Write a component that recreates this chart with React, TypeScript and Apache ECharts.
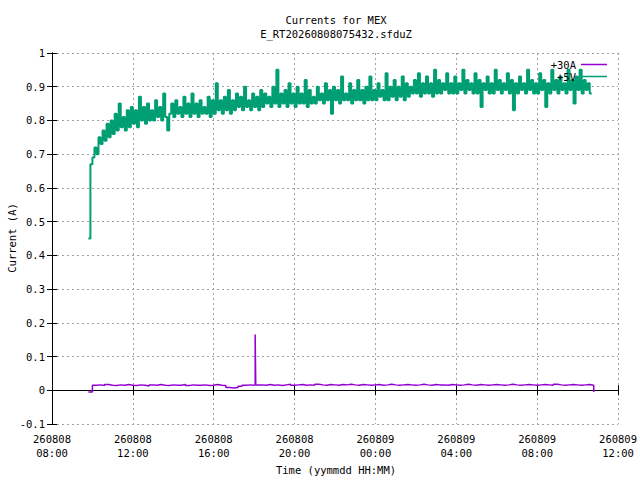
import React, { useEffect, useRef } from "react";
import * as echarts from "echarts";

// Time axis: hours since 260808 08:00
const X_MIN = 0;
const X_MAX = 28;
const X_INTERVAL = 4;
const START_DAY_LABELS = ["260808", "260809"];

const TITLE_LINE1 = "Currents for MEX";
const TITLE_LINE2 = "E_RT20260808075432.sfduZ";
const X_TITLE = "Time (yymmdd HH:MM)";
const Y_TITLE = "Current (A)";

const SERIES_NAMES = ["+30A", "+5V"];

// purple (+30A): samples every 0.2 h starting at 1.8 h
const PURPLE_START = 1.8;
const PURPLE_STEP = 0.2;
const PURPLE_VALUES = [
  -0.005, 0.015, 0.016, 0.014, 0.017, 0.015, 0.014, 0.016, 0.015, 0.017,
  0.015, 0.014, 0.016, 0.015, 0.013, 0.016, 0.015, 0.017, 0.015, 0.014,
  0.016, 0.015, 0.015, 0.017, 0.014, 0.016, 0.015, 0.015, 0.016, 0.014,
  0.015, 0.017, 0.015, 0.014, 0.008, 0.007, 0.008, 0.012, 0.015, 0.016,
  0.015, 0.016, 0.016, 0.015, 0.017, 0.015, 0.016, 0.014, 0.016, 0.018,
  0.015, 0.016, 0.017, 0.015, 0.016, 0.015, 0.018, 0.016, 0.015, 0.017,
  0.016, 0.015, 0.017, 0.016, 0.018, 0.016, 0.015, 0.017, 0.016, 0.015,
  0.016, 0.017, 0.015, 0.016, 0.018, 0.016, 0.015, 0.016, 0.017, 0.016,
  0.015, 0.016, 0.018, 0.016, 0.015, 0.017, 0.016, 0.016, 0.015, 0.017,
  0.016, 0.015, 0.016, 0.018, 0.016, 0.015, 0.017, 0.016, 0.015, 0.016,
  0.017, 0.016, 0.015, 0.016, 0.018, 0.016, 0.015, 0.016, 0.017, 0.016,
  0.015, 0.016, 0.017, 0.016, 0.015, 0.018, 0.016, 0.015, 0.016, 0.017,
  0.016, 0.015, 0.016, 0.017, 0.015, -0.005,
];
// short spike in +30A: [time (h), value]
const PURPLE_SPIKE: [number, number][] = [
  [10.05, 0.165],
  [10.08, 0.016],
];

// green (+5V): samples every 0.1 h starting at 1.8 h
const GREEN_START = 1.8;
const GREEN_STEP = 0.1;
const GREEN_VALUES = [
  0.45, 0.67,
  0.69, 0.72, 0.70, 0.75, 0.73, 0.77, 0.74, 0.79, 0.75, 0.80,
  0.76, 0.82, 0.77, 0.85, 0.78, 0.81, 0.77, 0.83, 0.78, 0.84,
  0.79, 0.83, 0.78, 0.87, 0.80, 0.84, 0.79, 0.85, 0.80, 0.83,
  0.80, 0.86, 0.81, 0.84, 0.80, 0.88, 0.81, 0.77, 0.82, 0.85,
  0.81, 0.86, 0.82, 0.84, 0.81, 0.87, 0.82, 0.85, 0.81, 0.88,
  0.82, 0.85, 0.81, 0.86, 0.82, 0.84, 0.82, 0.87, 0.81, 0.86,
  0.82, 0.91, 0.83, 0.86, 0.82, 0.87, 0.83, 0.89, 0.82, 0.86,
  0.83, 0.88, 0.84, 0.87, 0.83, 0.90, 0.84, 0.86, 0.83, 0.88,
  0.84, 0.87, 0.83, 0.89, 0.84, 0.88, 0.85, 0.87, 0.84, 0.90,
  0.85, 0.95, 0.84, 0.88, 0.85, 0.89, 0.84, 0.91, 0.85, 0.88,
  0.84, 0.90, 0.85, 0.88, 0.85, 0.92, 0.84, 0.89, 0.85, 0.87,
  0.85, 0.90, 0.86, 0.88, 0.85, 0.91, 0.86, 0.89, 0.82, 0.90,
  0.86, 0.89, 0.85, 0.93, 0.86, 0.88, 0.86, 0.91, 0.85, 0.89,
  0.86, 0.92, 0.86, 0.89, 0.85, 0.90, 0.86, 0.93, 0.86, 0.89,
  0.86, 0.91, 0.87, 0.89, 0.86, 0.94, 0.86, 0.90, 0.87, 0.92,
  0.86, 0.90, 0.87, 0.93, 0.86, 0.91, 0.87, 0.90, 0.88, 0.92,
  0.88, 0.94, 0.87, 0.91, 0.88, 0.93, 0.88, 0.91, 0.87, 0.95,
  0.88, 0.92, 0.88, 0.91, 0.89, 0.94, 0.88, 0.91, 0.88, 0.93,
  0.88, 0.91, 0.89, 0.95, 0.88, 0.92, 0.89, 0.91, 0.88, 0.94,
  0.88, 0.92, 0.84, 0.91, 0.89, 0.93, 0.88, 0.91, 0.88, 0.95,
  0.89, 0.92, 0.88, 0.91, 0.89, 0.94, 0.88, 0.92, 0.83, 0.91,
  0.88, 0.93, 0.89, 0.91, 0.88, 0.95, 0.89, 0.92, 0.88, 0.91,
  0.88, 0.94, 0.89, 0.92, 0.84, 0.91, 0.88, 0.95, 0.89, 0.92,
  0.88, 0.93, 0.89, 0.91, 0.88, 0.95, 0.89, 0.92, 0.85, 0.93,
  0.89, 0.95, 0.88, 0.92, 0.89, 0.91, 0.88, 0.88,
];

const FONT = "DejaVu Sans Mono";
const FS = 10.5;

function toPairs(start: number, step: number, values: number[]) {
  return values.map((v, i) => [Math.round((start + i * step) * 1000) / 1000, v]);
}

function xLabel(v: number) {
  const total = 8 + v;
  const day = START_DAY_LABELS[Math.floor(total / 24)] ?? "";
  const hh = Math.round(total % 24);
  return `${day}\n${String(hh).padStart(2, "0")}:00`;
}

export default function App() {
  const ref = useRef<HTMLDivElement>(null);
  useEffect(() => {
    document.body.style.margin = "0";
    if (!ref.current) return;
    const chart = echarts.init(ref.current, undefined, { renderer: "svg" });
    const grid = { left: 52, right: 19, top: 53, bottom: 56 };
    const axisLine = { show: true, lineStyle: { color: "#000", width: 1 } };
    const tick = { show: true, inside: true, length: 5, lineStyle: { color: "#000" } };
    const splitLine = {
      show: true,
      lineStyle: { color: "#a0a0a0", type: [2, 3] as any, width: 1 },
    };
    const purpleData = toPairs(PURPLE_START, PURPLE_STEP, PURPLE_VALUES)
      .concat(PURPLE_SPIKE.map((p) => [p[0], p[1]]))
      .sort((a, b) => a[0] - b[0]);
    const textStyle = (text: string) => ({
      text,
      font: `${FS}px ${FONT}`,
      fill: "#000",
      textAlign: "center",
      textVerticalAlign: "middle",
    });
    chart.setOption({
      animation: false,
      backgroundColor: "#fff",
      grid: { ...grid, containLabel: false },
      legend: {
        orient: "vertical",
        right: 28,
        top: 54,
        align: "right",
        icon: "rect",
        itemWidth: 26,
        itemHeight: 1.5,
        itemGap: 1,
        textStyle: { fontFamily: FONT, fontSize: FS, color: "#000", padding: [0, 0, 0, 0] },
        data: SERIES_NAMES,
      },
      graphic: [
        { type: "text", x: 336, y: 20, style: textStyle(TITLE_LINE1) },
        { type: "text", x: 336, y: 34, style: textStyle(TITLE_LINE2) },
        { type: "text", x: 336, y: 470, style: textStyle(X_TITLE) },
        { type: "text", x: 12, y: 238, rotation: Math.PI / 2, style: textStyle(Y_TITLE) },
      ],
      xAxis: [
        {
          type: "value",
          position: "bottom",
          min: X_MIN,
          max: X_MAX,
          interval: X_INTERVAL,
          axisLine,
          axisTick: tick,
          splitLine,
          axisLabel: {
            formatter: xLabel,
            fontFamily: FONT,
            fontSize: FS,
            color: "#000",
            lineHeight: 14,
            margin: 8,
            showMinLabel: true,
            showMaxLabel: true,
          },
        },
        {
          type: "value",
          position: "top",
          min: X_MIN,
          max: X_MAX,
          interval: X_INTERVAL,
          axisLine,
          axisTick: tick,
          splitLine: { show: false },
          axisLabel: { show: false },
        },
      ],
      yAxis: [
        {
          type: "value",
          position: "left",
          min: -0.1,
          max: 1,
          interval: 0.1,
          axisLine,
          axisTick: tick,
          splitLine,
          axisLabel: {
            fontFamily: FONT,
            fontSize: FS,
            color: "#000",
            margin: 7,
            formatter: (v: number) => String(Math.round(v * 10) / 10),
          },
        },
        {
          type: "value",
          position: "right",
          min: -0.1,
          max: 1,
          interval: 0.1,
          axisLine,
          axisTick: tick,
          splitLine: { show: false },
          axisLabel: { show: false },
        },
      ],
      series: [
        {
          name: SERIES_NAMES[0],
          type: "line",
          step: "end",
          symbol: "none",
          showSymbol: false,
          xAxisIndex: 0,
          yAxisIndex: 0,
          color: "#9400d3",
          lineStyle: { color: "#9400d3", width: 1.5 },
          data: purpleData,
        },
        {
          name: SERIES_NAMES[1],
          type: "line",
          step: "end",
          symbol: "none",
          showSymbol: false,
          xAxisIndex: 0,
          yAxisIndex: 0,
          color: "#009e73",
          lineStyle: { color: "#009e73", width: 2 },
          data: toPairs(GREEN_START, GREEN_STEP, GREEN_VALUES),
        },
      ],
    });
    return () => chart.dispose();
  }, []);
  return <div ref={ref} style={{ width: 640, height: 480 }} />;
}
